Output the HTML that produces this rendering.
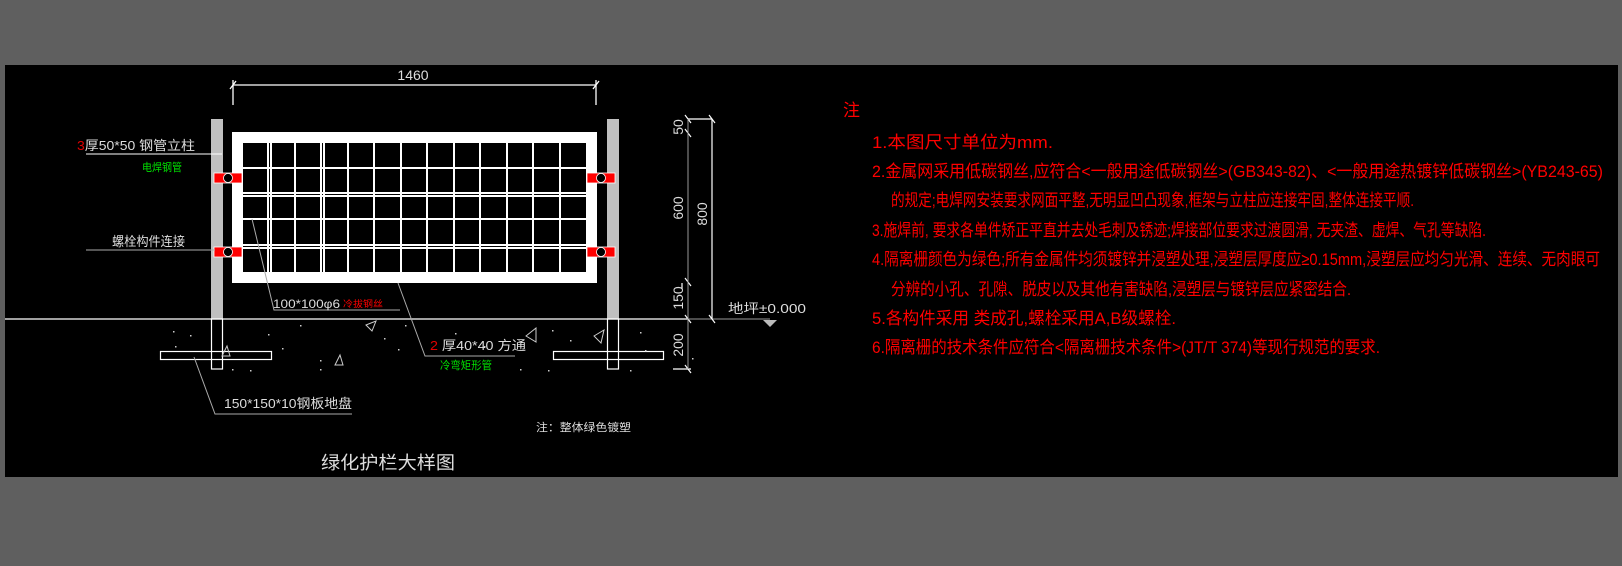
<!DOCTYPE html>
<html><head><meta charset="utf-8"><style>
html,body{margin:0;padding:0;background:#5f5f5f;}
svg{display:block;}
text{font-family:"Liberation Sans","Noto Sans CJK SC",sans-serif;}
</style></head><body>
<svg width="1622" height="566" viewBox="0 0 1622 566" xmlns="http://www.w3.org/2000/svg">
<rect x="0" y="0" width="1622" height="566" fill="#5f5f5f"/>
<rect x="5" y="65" width="1613" height="412" fill="#000"/>

<!-- top dimension -->
<g stroke="#fff" stroke-width="1.3" fill="none">
<line x1="233" y1="85" x2="596" y2="85"/>
<line x1="233" y1="80" x2="233" y2="105"/>
<line x1="596" y1="80" x2="596" y2="105"/>
<line x1="230" y1="89" x2="236" y2="81"/>
<line x1="593" y1="89" x2="599" y2="81"/>
</g>
<text x="413" y="80" fill="#ddd" font-size="14" text-anchor="middle">1460</text>

<!-- posts -->
<rect x="211" y="119" width="12" height="200" fill="#c0c0c0"/>
<rect x="607" y="119" width="12" height="200" fill="#c0c0c0"/>
<rect x="211.5" y="319" width="11" height="50" fill="none" stroke="#fff" stroke-width="1.2"/>
<rect x="607.5" y="319" width="11" height="50" fill="none" stroke="#fff" stroke-width="1.2"/>
<rect x="160.5" y="351.5" width="111" height="8" fill="none" stroke="#fff" stroke-width="1.2"/>
<rect x="553.5" y="351.5" width="110" height="8" fill="none" stroke="#fff" stroke-width="1.2"/>

<!-- frame -->
<rect x="232" y="132" width="365" height="151" fill="#fff"/>
<rect x="243" y="143" width="343" height="129" fill="#000"/>
<g stroke="#fff" stroke-width="2">
<line x1="268" y1="143" x2="268" y2="272"/><line x1="271" y1="143" x2="271" y2="272"/>
<line x1="295" y1="143" x2="295" y2="272"/>
<line x1="321" y1="143" x2="321" y2="272"/><line x1="324" y1="143" x2="324" y2="272"/>
<line x1="348" y1="143" x2="348" y2="272"/>
<line x1="374" y1="143" x2="374" y2="272"/>
<line x1="401" y1="143" x2="401" y2="272"/>
<line x1="427" y1="143" x2="427" y2="272"/>
<line x1="454" y1="143" x2="454" y2="272"/>
<line x1="480" y1="143" x2="480" y2="272"/>
<line x1="507" y1="143" x2="507" y2="272"/>
<line x1="533" y1="143" x2="533" y2="272"/>
<line x1="560" y1="143" x2="560" y2="272"/>
<line x1="243" y1="168" x2="586" y2="168"/>
<line x1="243" y1="193" x2="586" y2="193"/><line x1="243" y1="196" x2="586" y2="196"/>
<line x1="243" y1="219" x2="586" y2="219"/>
<line x1="243" y1="245" x2="586" y2="245"/><line x1="243" y1="248" x2="586" y2="248"/>
</g>

<!-- bolts -->
<g>
<rect x="214" y="173" width="28" height="10" fill="#ff0000" stroke="#fff" stroke-width="0.8"/>
<circle cx="228" cy="178" r="4.5" fill="#000" stroke="#fff" stroke-width="0.8"/>
<rect x="214" y="247" width="28" height="10" fill="#ff0000" stroke="#fff" stroke-width="0.8"/>
<circle cx="228" cy="252" r="4.5" fill="#000" stroke="#fff" stroke-width="0.8"/>
<rect x="587" y="173" width="28" height="10" fill="#ff0000" stroke="#fff" stroke-width="0.8"/>
<circle cx="601" cy="178" r="4.5" fill="#000" stroke="#fff" stroke-width="0.8"/>
<rect x="587" y="247" width="28" height="10" fill="#ff0000" stroke="#fff" stroke-width="0.8"/>
<circle cx="601" cy="252" r="4.5" fill="#000" stroke="#fff" stroke-width="0.8"/>
</g>

<!-- ground line -->
<line x1="5" y1="319" x2="688" y2="319" stroke="#fff" stroke-width="1.3"/>
<line x1="688" y1="319" x2="770" y2="319" stroke="#999" stroke-width="1"/>
<polygon points="763,320 777,320 770,327" fill="#bbb"/>

<!-- ground triangles & dots -->
<g stroke="#ccc" stroke-width="1" fill="none">
<polygon points="366,325 376,321 372,331"/>
<polygon points="526,336 536,328 536,342"/>
<polygon points="594,336 604,330 601,343"/>
<polygon points="222,356 230,356 227,346"/>
<polygon points="335,365 343,365 340,355"/>
</g>
<g fill="#ccc">
<rect x="173" y="331" width="1.5" height="1.5"/><rect x="190" y="335" width="1.5" height="1.5"/><rect x="175" y="346" width="1.5" height="1.5"/>
<rect x="268" y="334" width="1.5" height="1.5"/><rect x="282" y="348" width="1.5" height="1.5"/><rect x="300" y="325" width="1.5" height="1.5"/>
<rect x="320" y="360" width="1.5" height="1.5"/><rect x="384" y="338" width="1.5" height="1.5"/><rect x="398" y="349" width="1.5" height="1.5"/>
<rect x="405" y="325" width="1.5" height="1.5"/><rect x="455" y="333" width="1.5" height="1.5"/><rect x="484" y="346" width="1.5" height="1.5"/>
<rect x="552" y="330" width="1.5" height="1.5"/><rect x="570" y="340" width="1.5" height="1.5"/><rect x="640" y="332" width="1.5" height="1.5"/>
<rect x="645" y="350" width="1.5" height="1.5"/><rect x="232" y="369" width="1.5" height="1.5"/><rect x="250" y="370" width="1.5" height="1.5"/>
<rect x="320" y="369" width="1.5" height="1.5"/><rect x="520" y="369" width="1.5" height="1.5"/><rect x="548" y="370" width="1.5" height="1.5"/>
<rect x="630" y="370" width="1.5" height="1.5"/><rect x="692" y="358" width="1.5" height="1.5"/>
</g>

<!-- right dimensions -->
<g stroke="#fff" stroke-width="1.2" fill="none">
<line x1="712" y1="119" x2="712" y2="319"/>
<line x1="688" y1="119" x2="712" y2="119"/>
<line x1="709" y1="115" x2="715" y2="123"/><line x1="709" y1="315" x2="715" y2="323"/>
<line x1="685" y1="115" x2="691" y2="123"/><line x1="685" y1="129" x2="691" y2="137"/>
<line x1="685" y1="278" x2="691" y2="286"/><line x1="685" y1="315" x2="691" y2="323"/>
<line x1="685" y1="365" x2="691" y2="373"/>
<line x1="673" y1="369" x2="691" y2="369"/>
<line x1="682" y1="283" x2="682" y2="289"/>
</g>
<line x1="688" y1="119" x2="688" y2="369" stroke="#999" stroke-width="1"/>
<g fill="#ddd" font-size="14">
<text transform="translate(683,127) rotate(-90)" text-anchor="middle">50</text>
<text transform="translate(683,208) rotate(-90)" text-anchor="middle">600</text>
<text transform="translate(707,214) rotate(-90)" text-anchor="middle">800</text>
<text transform="translate(683,298) rotate(-90)" text-anchor="middle">150</text>
<text transform="translate(683,345) rotate(-90)" text-anchor="middle">200</text>
</g>
<text x="728" y="313" fill="#ddd" font-size="13" textLength="78" lengthAdjust="spacingAndGlyphs">地坪±0.000</text>

<!-- left labels -->
<line x1="86" y1="154" x2="222" y2="154" stroke="#fff" stroke-width="1"/>
<text x="77" y="150" font-size="13" fill="#ddd" textLength="118" lengthAdjust="spacingAndGlyphs"><tspan fill="#e00000">3</tspan>厚50*50 钢管立柱</text>
<text x="142" y="171" font-size="11" fill="#00e000" textLength="40" lengthAdjust="spacingAndGlyphs">电焊钢管</text>
<line x1="86" y1="250" x2="215" y2="250" stroke="#aaa" stroke-width="1"/>
<text x="112" y="246" font-size="13" fill="#ddd" textLength="73" lengthAdjust="spacingAndGlyphs">螺栓构件连接</text>

<!-- mesh leader -->
<polyline points="252,219 274,310 400,310" fill="none" stroke="#aaa" stroke-width="1"/>
<text x="273" y="308" font-size="12" fill="#ddd" textLength="67" lengthAdjust="spacingAndGlyphs">100*100φ6</text>
<text x="343" y="307" font-size="9" fill="#ff0000" textLength="40" lengthAdjust="spacingAndGlyphs">冷拔钢丝</text>

<!-- frame leader -->
<polyline points="398,283 425,356 515,356" fill="none" stroke="#aaa" stroke-width="1"/>
<text x="430" y="350" font-size="13" fill="#ddd" textLength="96" lengthAdjust="spacingAndGlyphs"><tspan fill="#e00000">2</tspan> 厚40*40 方通</text>
<text x="440" y="369" font-size="11" fill="#00e000" textLength="52" lengthAdjust="spacingAndGlyphs">冷弯矩形管</text>

<!-- plate leader -->
<polyline points="194,357 215,414 352,414" fill="none" stroke="#aaa" stroke-width="1"/>
<text x="224" y="408" font-size="13" fill="#ddd" textLength="128" lengthAdjust="spacingAndGlyphs">150*150*10钢板地盘</text>

<text x="536" y="431" font-size="11" fill="#ddd" textLength="95" lengthAdjust="spacingAndGlyphs">注：整体绿色镀塑</text>
<text x="321" y="469" font-size="18" fill="#ddd" textLength="134" lengthAdjust="spacingAndGlyphs">绿化护栏大样图</text>

<!-- notes -->
<g fill="#ff0000" font-size="17">
<text x="843" y="116">注</text>
<text x="872" y="148" textLength="181" lengthAdjust="spacingAndGlyphs">1.本图尺寸单位为mm.</text>
<text x="872" y="177" textLength="731" lengthAdjust="spacingAndGlyphs">2.金属网采用低碳钢丝,应符合&lt;一般用途低碳钢丝&gt;(GB343-82)、&lt;一般用途热镀锌低碳钢丝&gt;(YB243-65)</text>
<text x="891" y="206" textLength="523" lengthAdjust="spacingAndGlyphs">的规定;电焊网安装要求网面平整,无明显凹凸现象,框架与立柱应连接牢固,整体连接平顺.</text>
<text x="872" y="236" textLength="614" lengthAdjust="spacingAndGlyphs">3.施焊前, 要求各单件矫正平直并去处毛刺及锈迹;焊接部位要求过渡圆滑, 无夹渣、虚焊、气孔等缺陷.</text>
<text x="872" y="265" textLength="728" lengthAdjust="spacingAndGlyphs">4.隔离栅颜色为绿色;所有金属件均须镀锌并浸塑处理,浸塑层厚度应≥0.15mm,浸塑层应均匀光滑、连续、无肉眼可</text>
<text x="891" y="295" textLength="460" lengthAdjust="spacingAndGlyphs">分辨的小孔、孔隙、脱皮以及其他有害缺陷,浸塑层与镀锌层应紧密结合.</text>
<text x="872" y="324" textLength="304" lengthAdjust="spacingAndGlyphs">5.各构件采用 类成孔,螺栓采用A,B级螺栓.</text>
<text x="872" y="353" textLength="508" lengthAdjust="spacingAndGlyphs">6.隔离栅的技术条件应符合&lt;隔离栅技术条件&gt;(JT/T 374)等现行规范的要求.</text>
</g>
</svg>
</body></html>
